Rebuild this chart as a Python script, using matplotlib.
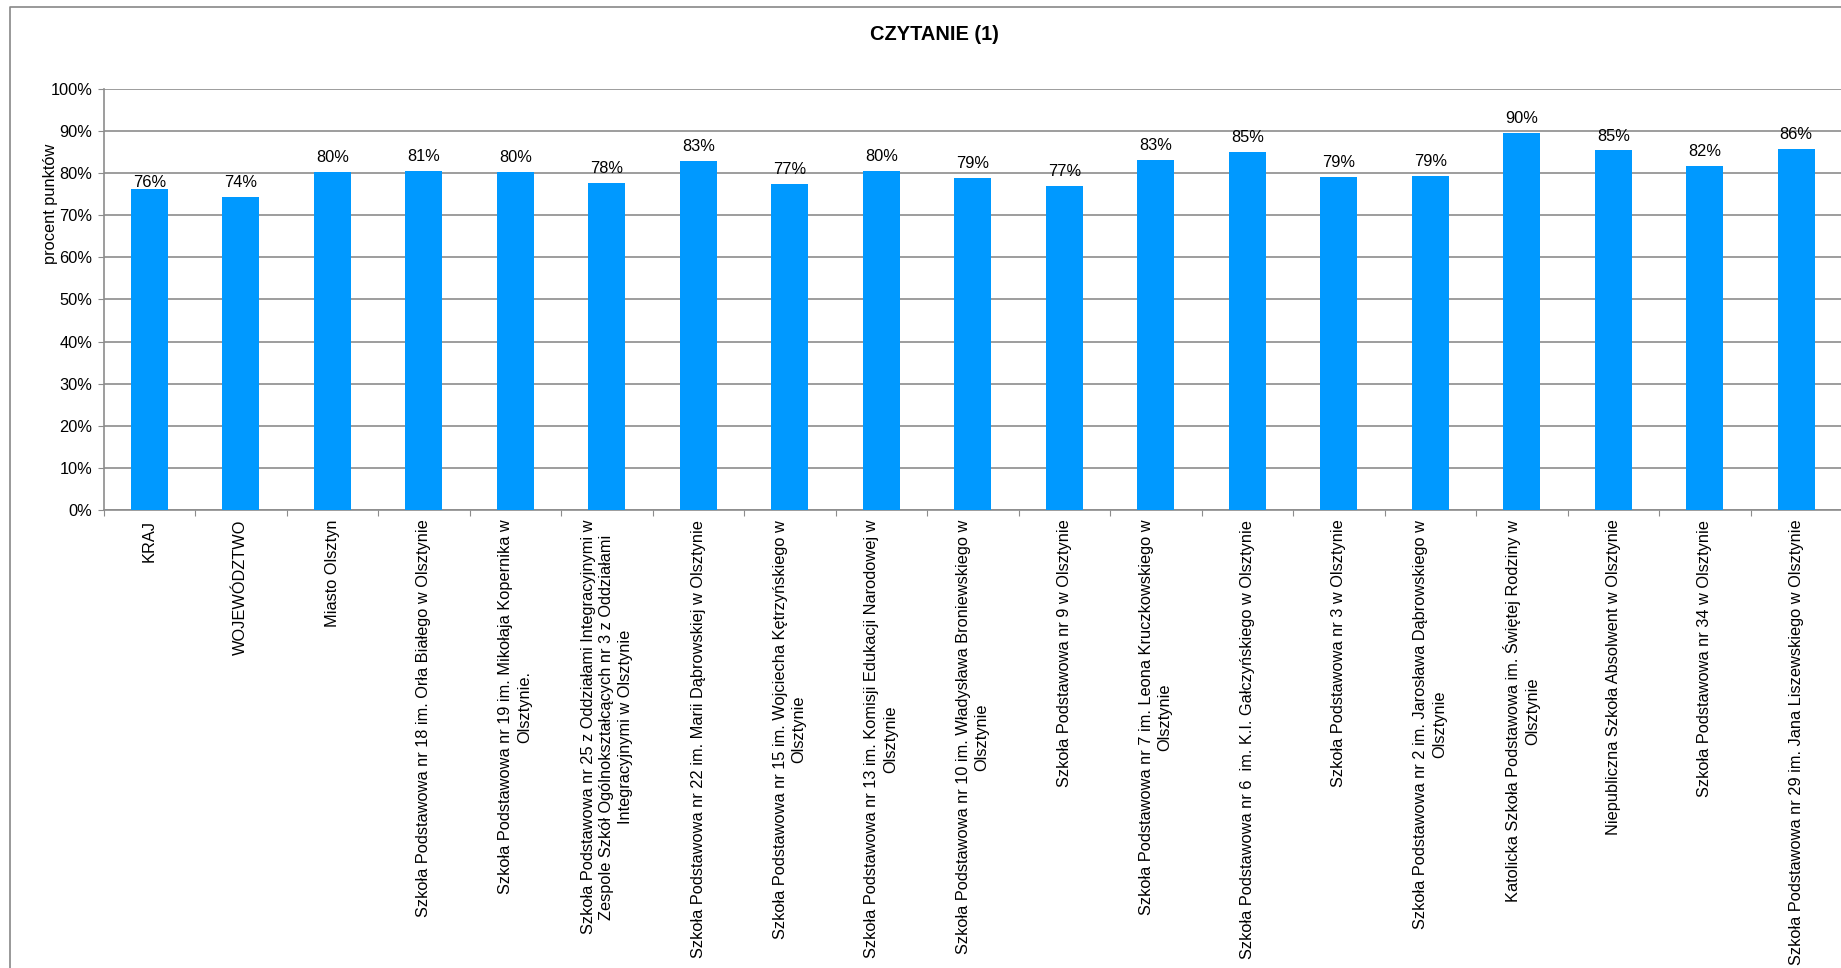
import numpy as np
import matplotlib
matplotlib.use('Agg')
import matplotlib.pyplot as plt
from matplotlib.ticker import PercentFormatter

plt.rcParams['font.family'] = ['Liberation Sans', 'DejaVu Sans']

#-------------------------------------data----------------------------------------
categories = [
    'KRAJ',
    'WOJEWÓDZTWO',
    'Miasto Olsztyn',
    'Szkoła Podstawowa nr 18 im. Orła Białego w Olsztynie',
    'Szkoła Podstawowa nr 19 im. Mikołaja Kopernika w\nOlsztynie.',
    'Szkoła Podstawowa nr 25 z Oddziałami Integracyjnymi w\nZespole Szkół Ogólnokształcących nr 3 z Oddziałami\nIntegracyjnymi w Olsztynie',
    'Szkoła Podstawowa nr 22 im. Marii Dąbrowskiej w Olsztynie',
    'Szkoła Podstawowa nr 15 im. Wojciecha Kętrzyńskiego w\nOlsztynie',
    'Szkoła Podstawowa nr 13 im. Komisji Edukacji Narodowej w\nOlsztynie',
    'Szkoła Podstawowa nr 10 im. Władysława Broniewskiego w\nOlsztynie',
    'Szkoła Podstawowa nr 9 w Olsztynie',
    'Szkoła Podstawowa nr 7 im. Leona Kruczkowskiego w\nOlsztynie',
    'Szkoła Podstawowa nr 6  im. K.I. Gałczyńskiego w Olsztynie',
    'Szkoła Podstawowa nr 3 w Olsztynie',
    'Szkoła Podstawowa nr 2 im. Jarosława Dąbrowskiego w\nOlsztynie',
    'Katolicka Szkoła Podstawowa im. Świętej Rodziny w\nOlsztynie',
    'Niepubliczna Szkoła Absolwent w Olsztynie',
    'Szkoła Podstawowa nr 34 w Olsztynie',
    'Szkoła Podstawowa nr 29 im. Jana Liszewskiego w Olsztynie',
]
values = [76.2, 74.3, 80.4, 80.6, 80.4, 77.6, 82.9, 77.4, 80.5, 78.9,
          77.0, 83.2, 85.1, 79.1, 79.4, 89.6, 85.4, 81.7, 85.8]
y_ticks = np.arange(0, 101, 10)

bar_color = '#0099FF'
grid_color = '#8C8C8C'
fs = 11.8

W, H = 1841, 968
fig = plt.figure(figsize=(W/100, H/100), dpi=100)
ax = fig.add_axes([103.5/W, 1-510/H, 1738.5/W, 421/H])

x = np.arange(len(categories))
bars = ax.bar(x, values, width=0.4, color=bar_color, zorder=3)

for i, (b, v) in enumerate(zip(bars, values)):
    # the KRAJ label sits lower in the original
    dy = -0.5 if i == 0 else 5
    ax.annotate('%d%%' % round(v), (b.get_x()+b.get_width()/2, v),
                xytext=(0, dy), textcoords='offset points',
                ha='center', va='bottom', fontsize=fs, zorder=4)

ax.set_xlim(-0.5, len(categories)-0.5)
ax.set_ylim(0, 100)
ax.set_yticks(y_ticks)
ax.yaxis.set_major_formatter(PercentFormatter(decimals=0))
ax.grid(axis='y', color=grid_color, linewidth=1.2, zorder=0)

# category boundaries carry the ticks, labels sit at bar centres
ax.set_xticks(np.arange(len(categories)+1)-0.5)
ax.set_xticklabels([])
ax.set_xticks(x, minor=True)
ax.set_xticklabels(categories, minor=True, rotation=90, ha='center', va='top',
                   multialignment='center', fontsize=fs, linespacing=1.3)
ax.tick_params(axis='x', which='minor', length=0, pad=7)
ax.tick_params(axis='x', which='major', length=4, color=grid_color)
ax.tick_params(axis='y', length=4, color=grid_color, labelsize=fs, pad=4)

for s in ['top', 'right']:
    ax.spines[s].set_visible(False)
for s in ['left', 'bottom']:
    ax.spines[s].set_color(grid_color)
    ax.spines[s].set_linewidth(1.2)

fig.text(934/W, 1-35/H, 'CZYTANIE (1)', ha='center', va='center',
         fontsize=14.4, fontweight='bold')
fig.text(51/W, 1-204/H, 'procent punktów', rotation=90, ha='center',
         va='center', fontsize=fs)

# chart frame (cropped at right and bottom)
fig.add_artist(plt.Line2D([10/W, 10/W, 1], [0, 1-7/H, 1-7/H],
                          transform=fig.transFigure, color='#888888', lw=1.2))

fig.savefig('out.png', dpi=100)
